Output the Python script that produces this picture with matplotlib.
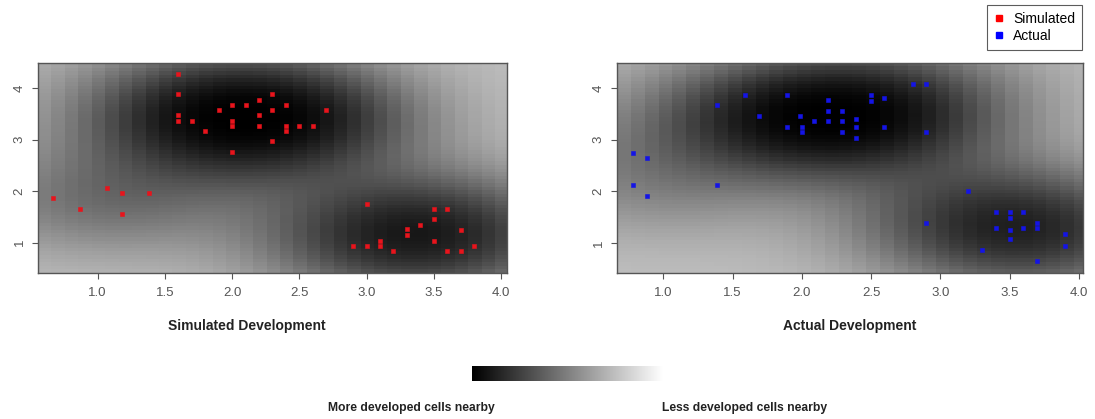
import numpy as np
import matplotlib
matplotlib.use("Agg")
import matplotlib.pyplot as plt
from matplotlib.lines import Line2D

plt.rcParams['font.family'] = ['Liberation Sans', 'DejaVu Sans']

# simulated development locations
sim_x = [1.6, 1.6, 1.6, 1.6, 1.7, 1.8, 1.9, 2.0, 2.0, 2.0, 2.0, 2.1, 2.2, 2.2,
         2.2, 2.3, 2.3, 2.3, 2.4, 2.4, 2.4, 2.5, 2.6, 2.7,
         0.67, 0.87, 1.07, 1.18, 1.18, 1.38,
         3.0, 2.9, 3.0, 3.1, 3.1, 3.2, 3.3, 3.3, 3.4, 3.5, 3.5, 3.5, 3.6, 3.6,
         3.7, 3.7, 3.8]
sim_y = [4.28, 3.88, 3.48, 3.37, 3.37, 3.17, 3.58, 3.68, 3.37, 3.27, 2.76, 3.68,
         3.78, 3.48, 3.27, 3.88, 3.58, 2.97, 3.68, 3.27, 3.17, 3.27, 3.27, 3.58,
         1.86, 1.65, 2.06, 1.96, 1.55, 1.96,
         1.75, 0.94, 0.94, 1.04, 0.94, 0.84, 1.26, 1.15, 1.35, 1.65, 1.45, 1.04,
         1.65, 0.84, 1.25, 0.84, 0.94]

# actual development locations
act_x = [0.78, 0.78, 0.88, 0.88, 1.39, 1.39, 1.59, 1.69, 1.89, 1.89, 1.99, 2.0,
         2.0, 2.09, 2.19, 2.19, 2.19, 2.29, 2.29, 2.29, 2.39, 2.39, 2.39, 2.5,
         2.5, 2.59, 2.59, 2.8, 2.9, 2.9, 2.9, 3.2, 3.4, 3.4, 3.3, 3.5, 3.5, 3.5,
         3.5, 3.6, 3.6, 3.7, 3.7, 3.7, 3.9, 3.9]
act_y = [2.74, 2.12, 2.64, 1.91, 3.67, 2.12, 3.87, 3.46, 3.87, 3.25, 3.46, 3.25,
         3.15, 3.36, 3.77, 3.56, 3.36, 3.56, 3.36, 3.15, 3.39, 3.25, 3.04, 3.87,
         3.75, 3.81, 3.25, 4.08, 4.08, 3.15, 1.39, 2.01, 1.6, 1.29, 0.87, 1.6,
         1.49, 1.26, 1.08, 1.6, 1.29, 1.39, 1.29, 0.66, 1.18, 0.95]

tick_x = [1.0, 1.5, 2.0, 2.5, 3.0, 3.5, 4.0]
tick_y = [1, 2, 3, 4]


def neighbourhood(px, py, xe, ye, sx=0.68, sy=0.72):
    # smoothed count of developed cells around each grid cell
    xc = (xe[:-1] + xe[1:]) / 2
    yc = (ye[:-1] + ye[1:]) / 2
    gx, gy = np.meshgrid(xc, yc)
    d = np.zeros_like(gx)
    for a, b in zip(px, py):
        d += np.exp(-((gx - a) ** 2 / (2 * sx ** 2) + (gy - b) ** 2 / (2 * sy ** 2)))
    return d


def panel(ax, px, py, xlim, ylim, colour):
    xe = np.arange(xlim[0], xlim[1] + 0.1, 0.1)
    ye = np.arange(ylim[0], ylim[1] + 0.07, 0.07)
    d = neighbourhood(px, py, xe, ye)
    shade = 0.75 * (1 - d / d.max()) ** 1.6
    ax.pcolormesh(xe, ye, shade, cmap='gray', vmin=0, vmax=1, shading='flat')
    ax.scatter(px, py, marker='s', s=9, c=colour, edgecolors=colour,
               linewidths=0.4, zorder=3)
    ax.set_xlim(xlim)
    ax.set_ylim(ylim)
    ax.set_xticks(tick_x)
    ax.set_yticks(tick_y)
    ax.set_xticklabels([f"{t:.1f}" for t in tick_x])
    ax.set_yticklabels([str(t) for t in tick_y], rotation=90, va='center')
    ax.tick_params(colors='#555555', labelsize=9.5, length=4, width=0.8)
    ax.tick_params(axis='x', pad=6)
    ax.tick_params(axis='y', pad=5)
    for s in ax.spines.values():
        s.set_color('#555555')
        s.set_linewidth(1.0)


fig = plt.figure(figsize=(10.95, 4.19), dpi=100)
W, H = 1095, 419

ax1 = fig.add_axes([38 / W, 1 - 273 / H, 469 / W, 210 / H])
panel(ax1, sim_x, sim_y, (0.556, 4.045), (0.41, 4.49), '#e8141c')

ax2 = fig.add_axes([617 / W, 1 - 273 / H, 466 / W, 210 / H])
panel(ax2, act_x, act_y, (0.666, 4.03), (0.425, 4.48), '#1414e6')

fig.text(247 / W, 1 - 326 / H, 'Simulated Development', ha='center', va='center',
         fontsize=10, fontweight='bold', color='#222222')
fig.text(850 / W, 1 - 326 / H, 'Actual Development', ha='center', va='center',
         fontsize=10, fontweight='bold', color='#222222')

# colour key
cax = fig.add_axes([472 / W, 1 - 381 / H, 191 / W, 15 / H])
cax.imshow(np.linspace(0, 1, 256)[None, :], aspect='auto', cmap='gray',
           vmin=0, vmax=1)
cax.axis('off')
fig.text(411 / W, 1 - 408 / H, 'More developed cells nearby', ha='center',
         va='center', fontsize=8.7, fontweight='bold', color='#222222')
fig.text(745 / W, 1 - 408 / H, 'Less developed cells nearby', ha='center',
         va='center', fontsize=8.7, fontweight='bold', color='#222222')

handles = [Line2D([], [], marker='s', ls='', color='#ff0000', markersize=5),
           Line2D([], [], marker='s', ls='', color='#0000ff', markersize=5)]
leg = fig.legend(handles, ['Simulated', 'Actual'], loc='upper right',
                 bbox_to_anchor=(1082 / W, 1 - 5 / H), borderaxespad=0,
                 fancybox=False, fontsize=10, handlelength=0.8,
                 handletextpad=0.6, labelspacing=0.2, borderpad=0.5)
leg.get_frame().set_edgecolor('#333333')
leg.get_frame().set_linewidth(0.8)

fig.savefig('out.png', dpi=100)
